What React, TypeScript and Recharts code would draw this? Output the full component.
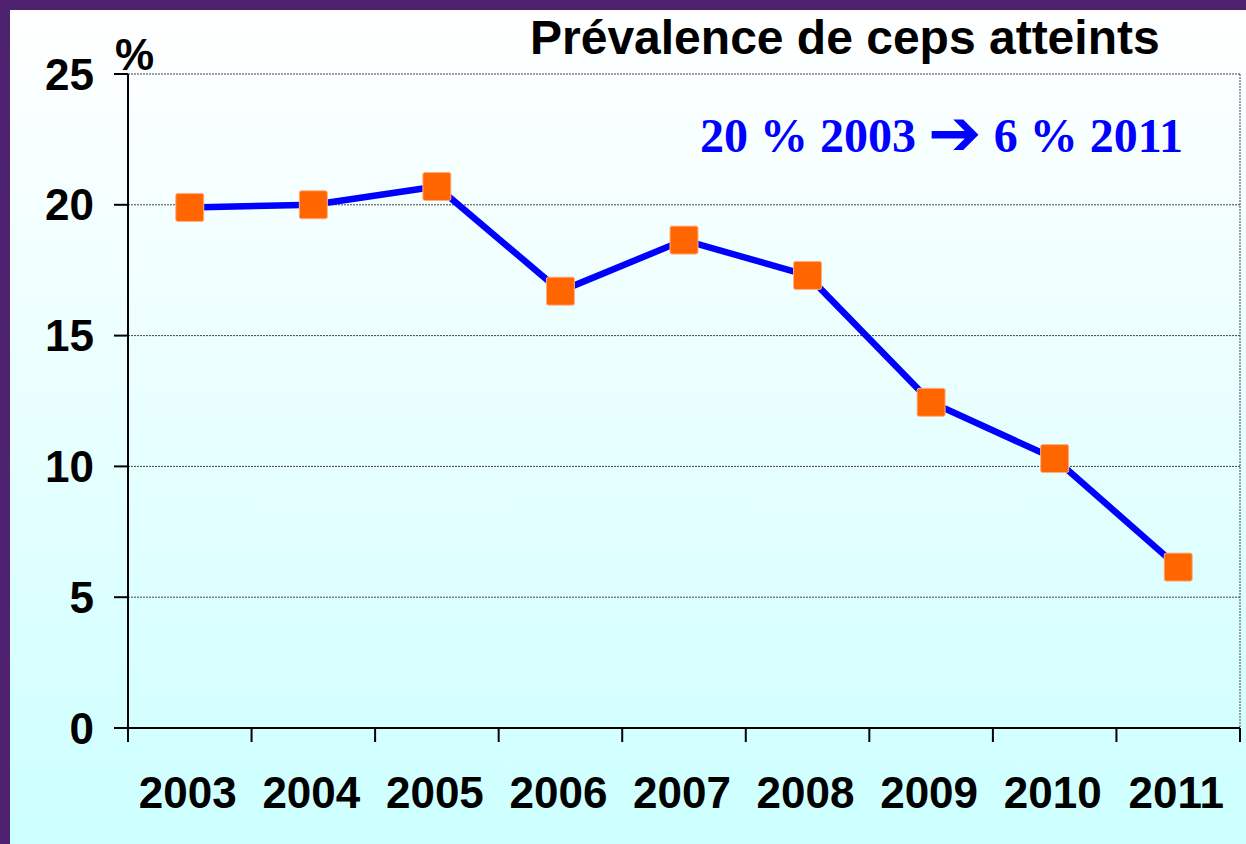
import { CartesianGrid, Line, LineChart, XAxis, YAxis } from "recharts";

const ANNEES = ["2003", "2004", "2005", "2006", "2007", "2008", "2009", "2010", "2011"];
const PREVALENCE = [19.9, 20.0, 20.7, 16.7, 18.65, 17.3, 12.45, 10.3, 6.15];
const Y_TICKS = [0, 5, 10, 15, 20, 25];

const VIOLET = "#4e2270";
const BLEU = "#0000ff";
const ORANGE = "#ff6600";
const SANS = "'Liberation Sans', Arial, sans-serif";
const SERIF = "'Liberation Serif', 'Times New Roman', serif";

const data = ANNEES.map((annee, i) => ({ annee, valeur: PREVALENCE[i] }));

// tick marks sit between categories, label at the centre
function YearTick(props: { x?: number; y?: number; index?: number; payload?: { value: string; offset?: number } }) {
  const { x = 0, y = 0, index = 0, payload } = props;
  const half = payload?.offset ?? 61.8;
  return (
    <g>
      <line x1={x - half} y1={y} x2={x - half} y2={y + 14} stroke="#000" strokeWidth={2} />
      {index === ANNEES.length - 1 && (
        <line x1={x + half} y1={y} x2={x + half} y2={y + 14} stroke="#000" strokeWidth={2} />
      )}
      <text x={x - 2} y={y + 80} textAnchor="middle" fontFamily={SANS} fontWeight={700} fontSize={44} fill="#000">
        {payload?.value}
      </text>
    </g>
  );
}

function SquareDot(props: { cx?: number; cy?: number; index?: number }) {
  const { cx, cy, index } = props;
  if (cx == null || cy == null) return <g key={index} />;
  return (
    <rect
      key={index}
      x={cx - 14}
      y={cy - 14}
      width={28}
      height={28}
      rx={2}
      fill={ORANGE}
      stroke="#ffb080"
      strokeWidth={1}
    />
  );
}

export default function App() {
  return (
    <div style={{ position: "fixed", left: 0, top: 0, width: 1246, height: 844, background: VIOLET, overflow: "hidden" }}>
      <div
        style={{
          position: "absolute",
          left: 10,
          top: 10,
          width: 1236,
          height: 834,
          background: "linear-gradient(to bottom, #ffffff 0%, #e8ffff 50%, #ccffff 100%)",
        }}
      >
        <LineChart width={1236} height={834} data={data} margin={{ top: 64, right: 6, bottom: 0, left: 0 }}>
          <CartesianGrid
            stroke="#444"
            strokeDasharray="2 1"
            strokeWidth={1}
            verticalCoordinatesGenerator={({ offset }: { offset: { left: number; width: number } }) => [
              offset.left + offset.width,
            ]}
          />
          <XAxis
            dataKey="annee"
            scale="band"
            height={116}
            interval={0}
            tickSize={0}
            tickMargin={0}
            axisLine={{ stroke: "#000", strokeWidth: 2 }}
            tickLine={false}
            tick={<YearTick />}
          />
          <YAxis
            width={118}
            domain={[0, 25]}
            ticks={Y_TICKS}
            interval={0}
            tickSize={14}
            tickMargin={20}
            axisLine={{ stroke: "#000", strokeWidth: 2 }}
            tickLine={{ stroke: "#000", strokeWidth: 2 }}
            tick={{ fontSize: 44, fontWeight: 700, fill: "#000", fontFamily: SANS }}
          />
          <Line
            type="linear"
            dataKey="valeur"
            stroke={BLEU}
            strokeWidth={6.5}
            dot={<SquareDot />}
            activeDot={false}
            isAnimationActive={false}
          />
        </LineChart>
        <div
          style={{
            position: "absolute",
            left: 105,
            top: 20,
            fontFamily: SANS,
            fontWeight: 700,
            fontSize: 44,
            lineHeight: "50px",
            color: "#000",
          }}
        >
          %
        </div>
        <div
          style={{
            position: "absolute",
            left: 520,
            top: 0,
            fontFamily: SANS,
            fontWeight: 700,
            fontSize: 48,
            lineHeight: "56px",
            color: "#000",
            whiteSpace: "nowrap",
          }}
        >
          Prévalence de ceps atteints
        </div>
        <div
          style={{
            position: "absolute",
            left: 690,
            top: 98,
            fontFamily: SERIF,
            fontWeight: 700,
            fontSize: 48,
            lineHeight: "56px",
            color: BLEU,
            whiteSpace: "nowrap",
          }}
        >
          20 % 2003{" "}
          <span
            style={{
              fontFamily: "'DejaVu Sans', sans-serif",
              fontSize: 64,
              lineHeight: "0px",
              display: "inline-block",
              position: "relative",
              top: 3,
            }}
          >
            ➔
          </span>{" "}
          6 % 2011
        </div>
      </div>
    </div>
  );
}
